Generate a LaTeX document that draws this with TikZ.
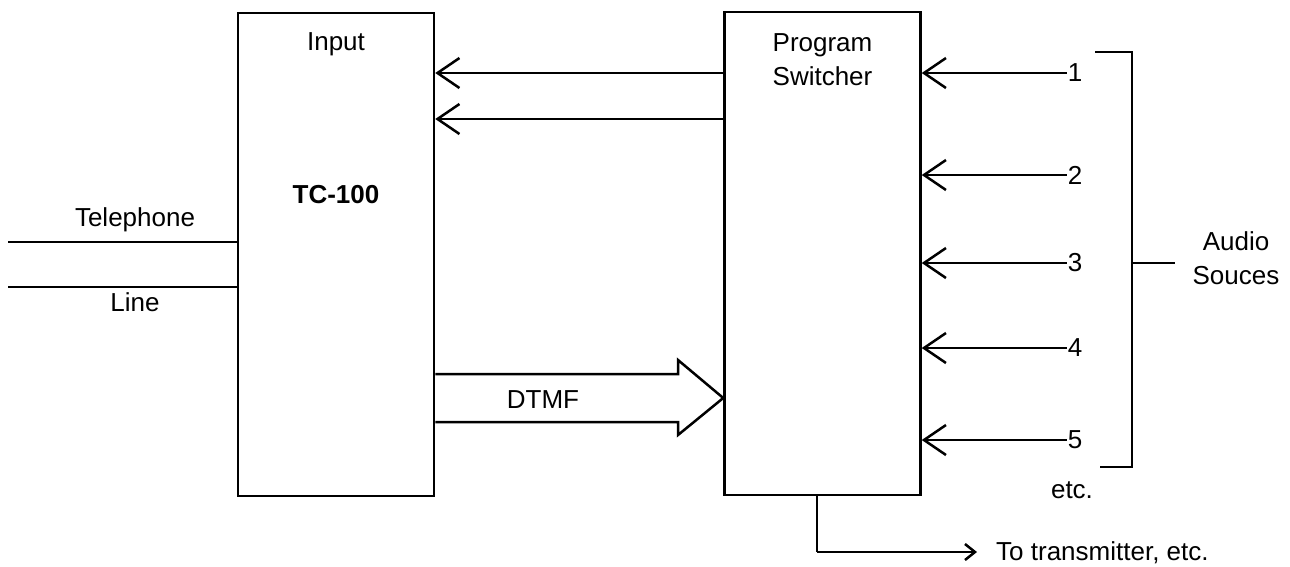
\documentclass[tikz,border=0pt]{standalone}
\usepackage{fontspec}
\setmainfont{Liberation Sans}
\usepackage{tikz}
\usetikzlibrary{arrows.meta, positioning, calc}

\begin{document}
\begin{tikzpicture}[
    x=1pt, y=-1pt,
    every node/.style={font=\fontsize{26}{34}\selectfont, inner sep=1pt},
    unit/.style={rectangle, draw, line width=2.5pt, minimum width=196pt, minimum height=483pt},
    label/.style={align=center},
    arrow/.style={line width=2.5pt, -{Straight Barb[length=22pt, width=30pt, line width=2.5pt]}},
    wire/.style={line width=2.5pt},
    small arrow/.style={line width=2.5pt, -{Straight Barb[length=10pt, width=16pt, line width=2.5pt]}}
]
    \useasboundingbox (0,0) rectangle (1290,566);

    % Components
    \node [unit] (tc) at (336, 254.5) {};
    \node [unit] (ps) at (822.5, 253.5) {};
    \node [label] (input) at (336, 44) {Input};
    \node [label, font=\fontsize{26}{34}\selectfont\bfseries] (tcname) at (336, 195) {TC-100};
    \node [label] (psname) at (822.5, 60) {Program\\Switcher};

    % Telephone line
    \coordinate (tel1) at (8, 242);
    \coordinate (tel2) at (8, 287);
    \node [label] (telephone) at (135, 220) {Telephone};
    \node [label] (line) at (135, 302) {Line};
    \draw [wire] (tel1) -- (tel1 -| tc.west);
    \draw [wire] (tel2) -- (tel2 -| tc.west);

    % Return paths
    \coordinate (ret1) at (ps.west |- 0, 73);
    \coordinate (ret2) at (ps.west |- 0, 119);
    \draw [arrow] (ret1) -- (ret1 -| tc.east);
    \draw [arrow] (ret2) -- (ret2 -| tc.east);

    % DTMF
    \coordinate (dtop) at (tc.east |- 0, 374);
    \coordinate (dbot) at (tc.east |- 0, 422);
    \coordinate (dtip) at (ps.west |- 0, 398);
    \draw [wire, line join=miter] (dtop) -- (678, 374) -- (678, 360) -- (dtip)
        -- (678, 435) -- (678, 422) -- (dbot);
    \node [label] (dtmf) at (543, 400) {DTMF};

    % Audio sources
    \node (s1) at (1075, 73) {1};
    \node (s2) at (1075, 175) {2};
    \node (s3) at (1075, 263) {3};
    \node (s4) at (1075, 348) {4};
    \node (s5) at (1075, 440) {5};
    \foreach \s in {s1, s2, s3, s4, s5}
        \draw [arrow] (\s.west) -- (\s.west -| ps.east);
    \node (etc) at (1072, 490) {etc.};

    % Bracket
    \coordinate (btop) at (1095, 52);
    \coordinate (bbot) at (1100, 467);
    \coordinate (bmid) at (1132, 263);
    \node [label] (sources) at (1236, 258) {Audio\\Souces};
    \draw [wire] (btop) -| (bbot -| bmid) -- (bbot);
    \draw [wire] (bmid) -- (1175, 263);

    % Output
    \node [anchor=west] (tx) at (995, 553) {To transmitter, etc.};
    \coordinate (bend) at (817, 552);
    \draw [wire] (ps.south -| bend) -- (bend);
    \draw [small arrow] (bend) -- (977, 552);
\end{tikzpicture}
\end{document}
